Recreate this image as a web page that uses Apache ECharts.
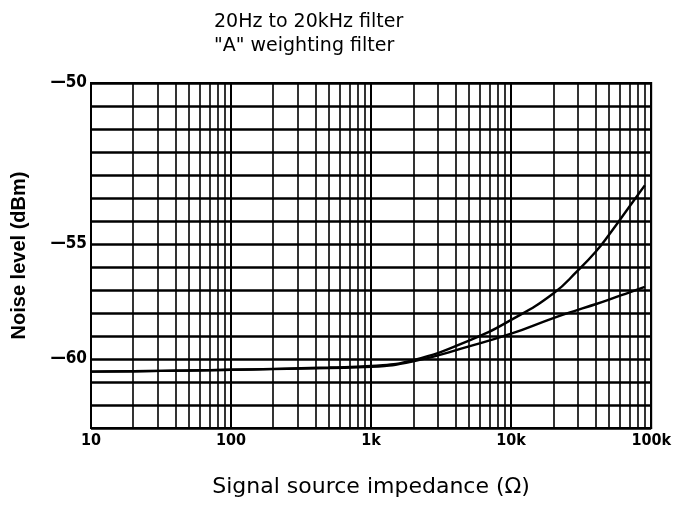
<!DOCTYPE html>
<html>
<head>
<meta charset="utf-8">
<script src="https://cdn.jsdelivr.net/npm/echarts@6/dist/echarts.min.js"></script>
<style>
html, body { margin: 0; padding: 0; background: #fff; }
#main { width: 674px; height: 513px; }
</style>
</head>
<body>
<div id="main"></div>
<script>
/*数据*/
var impedance = [10, 20, 50, 100, 200, 500, 1000, 2000, 5000, 10000, 20000, 30000, 40000, 50000, 70000, 90000];
var fullBand = [-60.55, -60.53, -60.5, -60.47, -60.43, -60.37, -60.3, -60.05, -59.2, -58.3, -57.15, -56.15, -55.35, -54.6, -53.37, -52.45];
var aWeight = [-60.55, -60.53, -60.5, -60.47, -60.44, -60.39, -60.34, -60.1, -59.45, -58.9, -58.22, -57.86, -57.62, -57.42, -57.1, -56.86];
var xTickLabels = { 10: '10', 100: '100', 1000: '1k', 10000: '10k', 100000: '100k' };
var yTickLabels = { '-48': '\u201450', '-55': '\u201455', '-60': '\u201460' };
var titleLines = ['20Hz to 20kHz filter', '"A" weighting filter'];

var tickFont = "'DejaVu Sans Condensed', 'Liberation Sans', sans-serif";

/*对数网格线 2..9*/
var minorX = [];
for(var d = 10; d < 100000; d *= 10) {
	for(var m = 2; m <= 9; m++) {
		minorX.push({ xAxis: d * m });
	}
}

function toPairs(xs, ys) {
	var out = [];
	for(var i = 0; i < xs.length; i++) {
		out.push([xs[i], ys[i]]);
	}
	return out;
}

var chart = echarts.init(document.getElementById('main'));
chart.setOption({
	animation: false,
	backgroundColor: '#fff',
	title: {
		text: titleLines.join('\n'),
		left: 209,
		top: 5,
		textStyle: {
			color: '#000',
			fontSize: 19,
			fontWeight: 'normal',
			fontFamily: 'DejaVu Sans',
			lineHeight: 24
		}
	},
	grid: {
		left: 91,
		right: 21,
		top: 83,
		bottom: 85,
		show: true,
		borderColor: '#000',
		borderWidth: 2
	},
	xAxis: {
		type: 'log',
		logBase: 10,
		min: 10,
		max: 100000,
		name: 'Signal source impedance (\u03A9)',
		nameLocation: 'middle',
		nameGap: 48,
		nameTextStyle: {
			color: '#000',
			fontSize: 22,
			fontFamily: 'DejaVu Sans'
		},
		axisLine: { lineStyle: { color: '#000', width: 2 } },
		axisTick: { show: false },
		axisLabel: {
			color: '#000',
			fontSize: 16,
			fontWeight: 'bold',
			fontFamily: tickFont,
			margin: 5,
			formatter: function(v) {
				return xTickLabels[v] || '';
			}
		},
		splitLine: { show: true, lineStyle: { color: '#000', width: 2 } }
	},
	yAxis: {
		type: 'value',
		min: -63,
		max: -48,
		interval: 1,
		name: 'Noise level (dBm)',
		nameLocation: 'middle',
		nameGap: 62,
		nameTextStyle: {
			color: '#000',
			fontSize: 20,
			fontWeight: 'bold',
			fontFamily: 'Liberation Sans'
		},
		axisLine: { show: true, lineStyle: { color: '#000', width: 2 } },
		axisTick: { show: false },
		axisLabel: {
			color: '#000',
			fontSize: 17,
			fontWeight: 'bold',
			fontFamily: tickFont,
			margin: 4,
			formatter: function(v) {
				return yTickLabels[String(v)] || '';
			}
		},
		splitLine: { show: true, lineStyle: { color: '#000', width: 2.5 } }
	},
	series: [{
		name: titleLines[0],
		type: 'line',
		smooth: true,
		symbol: 'none',
		lineStyle: { color: '#000', width: 2.4 },
		data: toPairs(impedance, fullBand),
		markLine: {
			silent: true,
			symbol: 'none',
			label: { show: false },
			lineStyle: { color: '#000', width: 1.6, type: 'solid' },
			data: minorX
		}
	}, {
		name: titleLines[1],
		type: 'line',
		smooth: true,
		symbol: 'none',
		lineStyle: { color: '#000', width: 2.4 },
		data: toPairs(impedance, aWeight)
	}]
});
</script>
</body>
</html>
